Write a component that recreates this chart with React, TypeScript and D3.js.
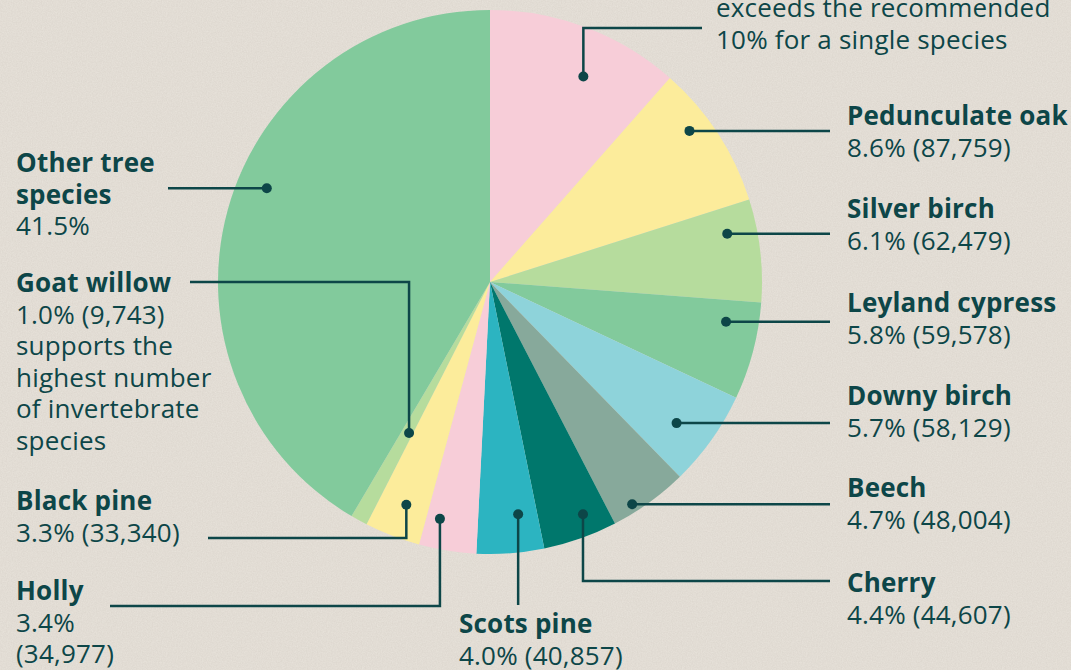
import React, { useRef, useEffect } from 'react';
import * as d3 from 'd3';

// Tree species share of the urban tree population
const species = [
  'Ash', 'Pedunculate oak', 'Silver birch', 'Leyland cypress', 'Downy birch',
  'Beech', 'Cherry', 'Scots pine', 'Holly', 'Black pine', 'Goat willow', 'Other tree species'
];
const shares = [11.5, 8.6, 6.1, 5.8, 5.7, 4.7, 4.4, 4.0, 3.4, 3.3, 1.0, 41.5];
const counts = [0, 87759, 62479, 59578, 58129, 48004, 44607, 40857, 34977, 33340, 9743, 0];
const colors = [
  '#f7cdd8', '#fcec9b', '#b6dc9d', '#82ca9c', '#8ed3da', '#87a99b',
  '#00776c', '#2cb4c1', '#f7cdd8', '#fcec9b', '#b6dc9d', '#82ca9c'
];

const INK = '#0d4648';
const W = 1071;
const H = 670;

const fmt = d3.format(',');
const valueText = (i: number) => `${shares[i].toFixed(1)}% (${fmt(counts[i])})`;

type Line = { text: string; bold?: boolean };
type Callout = {
  i: number;
  t: number; // position within slice (0..1)
  rf: number; // radius fraction
  route: [string, number][];
  x: number;
  y: number;
  lines: Line[];
};

const callouts: Callout[] = [
  { i: 0, t: 0.59, rf: 0.83, route: [['v', 28], ['h', 702]], x: 716, y: 17,
    lines: [{ text: 'exceeds the recommended' }, { text: '10% for a single species' }] },
  { i: 1, t: 0.37, rf: 0.92, route: [['h', 830]], x: 847, y: 125,
    lines: [{ text: species[1], bold: true }, { text: valueText(1) }] },
  { i: 2, t: 0.28, rf: 0.89, route: [['h', 830]], x: 847, y: 218,
    lines: [{ text: species[2], bold: true }, { text: valueText(2) }] },
  { i: 3, t: 0.25, rf: 0.88, route: [['h', 830]], x: 847, y: 312,
    lines: [{ text: species[3], bold: true }, { text: valueText(3) }] },
  { i: 4, t: 0.58, rf: 0.86, route: [['h', 830]], x: 847, y: 405,
    lines: [{ text: species[4], bold: true }, { text: valueText(4) }] },
  { i: 5, t: 0.69, rf: 0.97, route: [['h', 830]], x: 847, y: 497,
    lines: [{ text: species[5], bold: true }, { text: valueText(5) }] },
  { i: 6, t: 0.35, rf: 0.92, route: [['v', 581], ['h', 830]], x: 847, y: 592,
    lines: [{ text: species[6], bold: true }, { text: valueText(6) }] },
  { i: 7, t: 0.32, rf: 0.86, route: [['v', 605]], x: 459, y: 633,
    lines: [{ text: species[7], bold: true }, { text: valueText(7) }] },
  { i: 8, t: 0.74, rf: 0.89, route: [['v', 606], ['h', 110]], x: 16, y: 600,
    lines: [{ text: species[8], bold: true }, { text: `${shares[8].toFixed(1)}%` }, { text: `(${fmt(counts[8])})` }] },
  { i: 9, t: 0.46, rf: 0.875, route: [['v', 538], ['h', 208]], x: 16, y: 510,
    lines: [{ text: species[9], bold: true }, { text: valueText(9) }] },
  { i: 10, t: 0.33, rf: 0.63, route: [['v', 282], ['h', 190]], x: 16, y: 292,
    lines: [
      { text: species[10], bold: true }, { text: valueText(10) }, { text: 'supports the' },
      { text: 'highest number' }, { text: 'of invertebrate' }, { text: 'species' }
    ] },
  { i: 11, t: 0.55, rf: 0.89, route: [['h', 168]], x: 16, y: 172,
    lines: [{ text: 'Other tree', bold: true }, { text: 'species', bold: true }, { text: `${shares[11].toFixed(1)}%` }] },
];

export default function App() {
  const svgRef = useRef<SVGSVGElement>(null);

  useEffect(() => {
    if (!svgRef.current) return;
    const svg = d3.select(svgRef.current);
    svg.selectAll('*').remove();

    // paper background
    const defs = svg.append('defs');
    const f = defs.append('filter').attr('id', 'paper').attr('x', 0).attr('y', 0)
      .attr('width', '100%').attr('height', '100%');
    f.append('feTurbulence').attr('type', 'fractalNoise').attr('baseFrequency', 0.8)
      .attr('numOctaves', 3).attr('seed', 4).attr('result', 'n');
    f.append('feColorMatrix').attr('type', 'matrix')
      .attr('values', '0 0 0 0 0.5  0 0 0 0 0.45  0 0 0 0 0.4  0 0 0 0.28 0');

    svg.append('rect').attr('width', W).attr('height', H).attr('fill', '#e8e3db');
    svg.append('rect').attr('width', W).attr('height', H).attr('filter', 'url(#paper)');

    const cx = 490;
    const cy = 282;
    const R = 272;

    const pie = d3.pie<number>().sort(null).value((d) => d);
    const arcs = pie(shares);
    const arc = d3.arc<d3.PieArcDatum<number>>().innerRadius(0).outerRadius(R);

    const g = svg.append('g').attr('transform', `translate(${cx},${cy})`);
    g.selectAll('path')
      .data(arcs)
      .enter().append('path')
      .attr('d', arc)
      .attr('fill', (_d, i) => colors[i]);

    // callouts
    const lines = svg.append('g');
    const labels = svg.append('g').attr('font-family', '"Open Sans", "Noto Sans", sans-serif')
      .attr('font-size', 26).attr('letter-spacing', 0.2).attr('fill', INK);

    callouts.forEach((c) => {
      const a = arcs[c.i];
      const ang = a.startAngle + (a.endAngle - a.startAngle) * c.t;
      const px = cx + Math.sin(ang) * R * c.rf;
      const py = cy - Math.cos(ang) * R * c.rf;

      const path = d3.path();
      let x = px;
      let y = py;
      path.moveTo(x, y);
      c.route.forEach(([dir, v]) => {
        if (dir === 'h') x = v; else y = v;
        path.lineTo(x, y);
      });
      lines.append('path').attr('d', path.toString()).attr('fill', 'none')
        .attr('stroke', INK).attr('stroke-width', 2.5);
      lines.append('circle').attr('cx', px).attr('cy', py).attr('r', 5).attr('fill', INK);

      c.lines.forEach((ln, k) => {
        labels.append('text')
          .attr('x', c.x)
          .attr('y', c.y + k * 31.5)
          .attr('font-weight', ln.bold ? 700 : 400)
          .text(ln.text);
      });
    });
  }, []);

  return (
    <svg
      ref={svgRef}
      width={W}
      height={H}
      style={{ position: 'fixed', top: 0, left: 0, display: 'block' }}
    />
  );
}
